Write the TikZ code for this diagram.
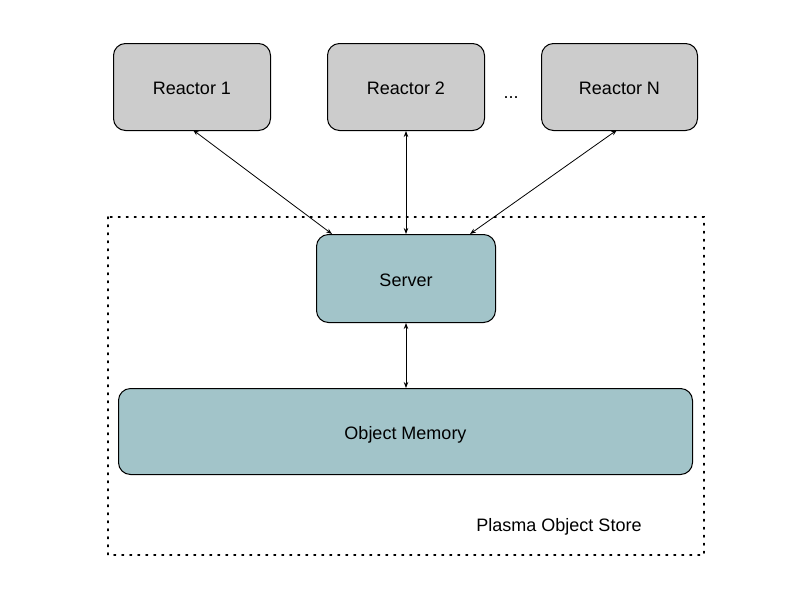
\documentclass[tikz,border=0pt]{standalone}
\usepackage{fontspec}
\setmainfont{Liberation Sans}
\usetikzlibrary{arrows.meta}
\definecolor{reactorgray}{HTML}{CCCCCC}
\definecolor{serverteal}{HTML}{A2C4C9}
\begin{document}
\begin{tikzpicture}[x=1pt,y=-1pt,
  txt/.style={font=\fontsize{18}{21}\selectfont},
  box/.style={draw=black,line width=1pt,rounded corners=12pt,anchor=north west,inner sep=0pt,txt,text depth=0pt,text height=15pt},
  reactor/.style={box,fill=reactorgray},
  tealbox/.style={box,fill=serverteal},
  link/.style={line width=0.8pt,{Stealth[length=6pt,width=4.5pt]}-{Stealth[length=6pt,width=4.5pt]}},
  storebox/.style={line width=1.6pt,dash pattern=on 1.6pt off 6.4pt,line cap=round}]
\useasboundingbox (0,0) rectangle (800,600);
\draw[storebox] (108,217) rectangle (704,555);
\node[reactor,minimum width=157pt,minimum height=87pt] (r1) at (113,43) {Reactor 1};
\node[reactor,minimum width=157pt,minimum height=87pt] (r2) at (327,43) {Reactor 2};
\node[reactor,minimum width=156pt,minimum height=87pt] (rn) at (541,43) {Reactor N};
\node[txt] (dots) at (511,98) {...};
\node[tealbox,minimum width=179pt,minimum height=88pt] (srv) at (316,234) {Server};
\node[tealbox,minimum width=574pt,minimum height=86pt] (mem) at (118,388) {Object Memory};
\node[txt] (lbl) at (559,527) {Plasma Object Store};
\coordinate (r1b) at (193,130);
\coordinate (s1) at (332,234);
\coordinate (rnb) at (617,130);
\coordinate (s3) at (470,234);
\draw[link] (r1b) -- (s1);
\draw[link] (r2.south) -- (r2.south |- srv.north);
\draw[link] (rnb) -- (s3);
\draw[link] (srv.south -| r2.south) -- (mem.north -| r2.south);
\end{tikzpicture}
\end{document}
